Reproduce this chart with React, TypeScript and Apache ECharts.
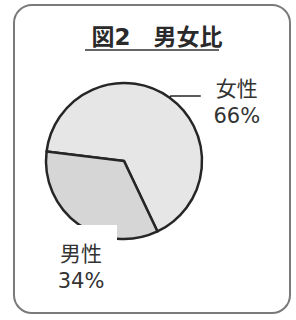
import React, { useEffect, useRef } from "react";
import * as echarts from "echarts";

const title = "図2　男女比";
const categories = ["女性", "男性"];
const values = [66, 34];
const sliceColors = ["#e6e6e6", "#d6d6d6"];

export default function App() {
  const ref = useRef<HTMLDivElement>(null);
  useEffect(() => {
    if (!ref.current) return;
    const chart = echarts.init(ref.current, null, { renderer: "svg" });
    const font = "'Noto Sans CJK JP', 'Noto Sans', sans-serif";
    const labelFont = "'DejaVu Sans', 'Noto Sans CJK JP', sans-serif";
    chart.setOption({
      animation: false,
      backgroundColor: "#ffffff",
      title: {
        text: title,
        left: 152,
        top: 20,
        textAlign: "center",
        textStyle: { fontFamily: labelFont, fontSize: 23, fontWeight: "bold", color: "#2a2a2a" },
      },
      graphic: [
        {
          type: "rect",
          shape: { x: 14, y: 5, width: 276, height: 308, r: 18 },
          style: { fill: "none", stroke: "#7a7a7a", lineWidth: 2 },
          silent: true,
        },
        {
          type: "line",
          shape: { x1: 85, y1: 50, x2: 219, y2: 50 },
          style: { stroke: "#333", lineWidth: 1.5 },
          silent: true,
        },
      ],
      series: [
        {
          type: "pie",
          center: [124, 161],
          radius: 78,
          startAngle: 173,
          clockwise: true,
          avoidLabelOverlap: false,
          itemStyle: { borderColor: "#262626", borderWidth: 2.5 },
          label: {
            show: true,
            position: "outside",
            distanceToLabelLine: 10,
            fontFamily: labelFont,
            color: "#333",
            formatter: (p: any) => `{t|${p.name}}\n{t|${p.value}%}`,
            rich: {
              t: { fontFamily: labelFont, fontSize: 21, lineHeight: 27, color: "#333", width: 52, align: "center" },
            },
          },
          labelLine: {
            show: true,
            length: 2,
            length2: 30,
            smooth: false,
            lineStyle: { color: "#262626", width: 1.5 },
          },
          labelLayout: (params: any) => {
            if (params.dataIndex === 1) {
              return { x: 81, y: 225, align: "center", verticalAlign: "top" };
            }
            return { dy: 6 };
          },
          data: categories.map((c, i) => ({
            name: c,
            value: values[i],
            itemStyle: { color: sliceColors[i] },
            ...(i === 1
              ? {
                  labelLine: { show: false },
                  label: { backgroundColor: "#ffffff", padding: [15, 10, 2, 10] },
                }
              : {}),
          })),
        },
      ],
    });
    return () => chart.dispose();
  }, []);
  return (
    <div
      ref={ref}
      style={{ position: "fixed", left: 0, top: 0, width: 296, height: 320 }}
    />
  );
}
